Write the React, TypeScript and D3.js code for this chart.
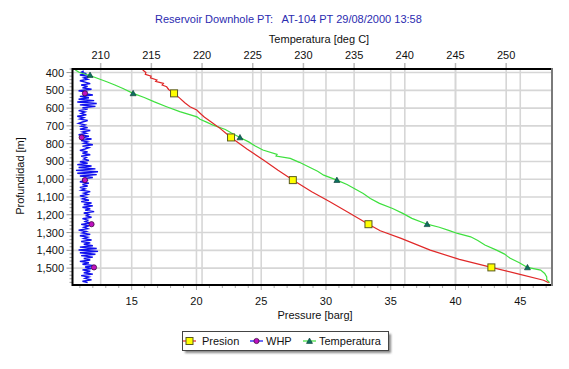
import React from 'react';
import * as d3 from 'd3';

// Presion (red, bottom axis, barg)
const presDepth = [386, 400, 410, 420, 430, 442, 450, 461, 470, 480, 495, 517, 545, 570, 592, 611, 630, 650, 686, 714, 740, 765, 830, 892, 950, 1005, 1070, 1127, 1190, 1253, 1290, 1333, 1399, 1451, 1496, 1534, 1568, 1582];
const presVal = [15.85, 16.1, 16.05, 16.5, 16.45, 16.95, 16.85, 17.45, 17.35, 17.7, 17.85, 18.27, 18.73, 19.1, 19.5, 20.02, 20.3, 20.6, 21.3, 21.82, 22.25, 22.67, 23.9, 25.17, 26.3, 27.44, 28.9, 30.3, 31.8, 33.28, 34.19, 35.8, 38.05, 40.3, 42.77, 44.9, 46.8, 47.2];

// Temperatura (green, top axis, deg C)
const tempDepth = [386, 400, 418, 435, 452, 470, 490, 517, 540, 565, 592, 620, 649, 663, 680, 696, 720, 740, 765, 790, 812, 836, 860, 870, 883, 905, 930, 955, 977, 1005, 1030, 1055, 1080, 1108, 1136, 1165, 1192, 1220, 1253, 1270, 1289, 1305, 1324, 1345, 1370, 1399, 1420, 1445, 1470, 1496, 1511, 1530, 1549, 1565, 1582];
const tempVal = [207.5, 207.9, 209.0, 209.8, 210.6, 211.4, 212.2, 213.2, 214.3, 215.3, 216.5, 217.8, 219.5, 219.8, 220.5, 221.1, 222.3, 222.9, 223.74, 224.6, 225.2, 226.0, 227.4, 227.3, 228.7, 229.6, 230.5, 231.4, 232.0, 233.3, 234.3, 235.1, 235.9, 236.6, 237.5, 238.8, 239.8, 240.7, 242.2, 243.4, 244.4, 245.2, 246.5, 247.2, 247.9, 249.05, 249.8, 250.4, 251.3, 252.1, 253.4, 253.8, 254.0, 254.0, 254.3];

// WHP (blue line, bottom axis), sampled every 8 m from 390 m
const whpStart = 390;
const whpStep = 8;
const whpVal = [
  11.3, 11.1, 11.5, 11.0, 11.7, 11.3, 11.6, 11.0, 11.4, 11.8,
  11.1, 11.6, 11.2, 11.9, 10.9, 11.5, 11.3, 12.0, 11.0, 11.7,
  10.9, 12.1, 10.8, 12.3, 11.0, 12.2, 11.2, 11.6, 10.9, 11.4,
  11.1, 11.5, 10.8, 11.3, 11.0, 11.6, 11.2, 10.9, 11.4, 11.1,
  11.6, 11.0, 11.8, 11.2, 11.5, 10.9, 11.7, 11.3, 11.9, 11.1,
  11.6, 11.3, 12.0, 11.2, 11.7, 11.4, 11.0, 11.6, 11.2, 11.8,
  11.1, 11.5, 11.3, 11.7, 11.0, 11.6, 10.8, 11.9, 10.9, 12.2,
  10.7, 12.4, 10.8, 12.3, 11.0, 12.0, 11.2, 11.5, 11.0, 11.7,
  11.2, 11.6, 11.0, 11.4, 11.1, 11.8, 11.3, 11.6, 11.0, 11.5,
  11.2, 11.7, 11.1, 11.9, 11.3, 12.0, 11.2, 11.8, 11.4, 12.1,
  11.3, 11.7, 11.5, 11.9, 11.2, 11.6, 11.4, 11.8, 11.1, 11.7,
  11.3, 11.6, 10.9, 11.5, 11.2, 11.8, 11.0, 11.6, 11.3, 11.9,
  11.1, 11.8, 11.3, 12.0, 11.0, 12.3, 10.9, 12.4, 11.0, 12.2,
  11.1, 12.0, 11.3, 11.8, 11.0, 11.7, 11.2, 12.1, 11.4, 11.9,
  11.2, 11.8, 11.3, 12.0, 11.1, 11.7, 11.4, 11.9, 11.2, 11.6,
];

// markers
const markDepth = [517, 765, 1005, 1253, 1496];
const presMark = [18.27, 22.67, 27.44, 33.28, 42.77];
const whpMark = [11.39, 11.14, 11.39, 11.9, 12.09];
const tempMarkDepth = [414, 517, 765, 1005, 1253, 1496];
const tempMark = [208.95, 213.2, 223.74, 233.3, 242.2, 252.1];

const presTicks = [15, 20, 25, 30, 35, 40, 45];
const tempTicks = [210, 215, 220, 225, 230, 235, 240, 245, 250];
const depthTicks = [400, 500, 600, 700, 800, 900, 1000, 1100, 1200, 1300, 1400, 1500];

const W = 569, H = 369;
const L = 72.5, R = 552, T = 69, B = 285;
const FONT = '"Liberation Sans", Arial, sans-serif';

export default function App() {
  const x = d3.scaleLinear().domain([10.43, 47.45]).range([L, R]);
  const xt = d3.scaleLinear().domain([207.22, 254.52]).range([L, R]);
  const y = d3.scaleLinear().domain([380, 1595]).range([T, B]);
  const fmt = d3.format(',');

  const presLine = d3.line<number>().x((v) => x(v)).y((_, i) => y(presDepth[i]));
  const tempLine = d3.line<number>().x((v) => xt(v)).y((_, i) => y(tempDepth[i]));
  const whpLine = d3.line<number>().x((v) => x(v)).y((_, i) => y(whpStart + i * whpStep));

  const minorP = d3.range(11, 48).filter((v) => v % 5 !== 0);
  const minorD = d3.range(380, 1595, 20).filter((v) => v % 100 !== 0);

  const tri = (cx: number, cy: number, s = 3) =>
    `M${cx},${cy - s} L${cx + s},${cy + s * 0.8} L${cx - s},${cy + s * 0.8} Z`;

  return (
    <svg width={W} height={H} style={{ position: 'absolute', left: 0, top: 0, background: '#fff' }} fontFamily={FONT} fontSize={11}>
      <defs>
        <clipPath id="plot"><rect x={L} y={T} width={R - L} height={B - T} /></clipPath>
        <filter id="sh" x="-10%" y="-30%" width="130%" height="170%"><feGaussianBlur stdDeviation="1" /></filter>
      </defs>
      <text x={155} y={23} fill="#2b2bb0" style={{ whiteSpace: 'pre' }}>{'Reservoir Downhole PT:   AT-104 PT 29/08/2000 13:58'}</text>
      <text x={319} y={43} textAnchor="middle" fill="#111">Temperatura [deg C]</text>

      {/* grid */}
      <g stroke="#d6d6d6" strokeWidth={1.6}>
        {depthTicks.map((d) => <line key={'h' + d} x1={L} x2={R} y1={y(d)} y2={y(d)} />)}
        {presTicks.map((p) => <line key={'p' + p} x1={x(p)} x2={x(p)} y1={T} y2={B} />)}
        {tempTicks.map((t) => <line key={'t' + t} x1={xt(t)} x2={xt(t)} y1={T} y2={B} />)}
      </g>

      {/* top axis */}
      <g stroke="#bbb" strokeWidth={1.5}>
        {tempTicks.map((t) => <line key={t} x1={xt(t)} x2={xt(t)} y1={T - 6} y2={T} />)}
      </g>
      {tempTicks.map((t) => <text key={t} x={xt(t)} y={59} textAnchor="middle" fill="#111">{t}</text>)}

      {/* bottom axis */}
      <g stroke="#aaa" strokeWidth={1}>
        {presTicks.map((p) => <line key={p} x1={x(p)} x2={x(p)} y1={B} y2={B + 5} />)}
        {minorP.map((p) => <line key={'m' + p} x1={x(p)} x2={x(p)} y1={B} y2={B + 3} />)}
      </g>
      {presTicks.map((p) => <text key={p} x={x(p)} y={305} textAnchor="middle" fill="#111">{p}</text>)}
      <text x={315} y={319} textAnchor="middle" fill="#111">Pressure [barg]</text>

      {/* left axis */}
      <g stroke="#999" strokeWidth={1}>
        {depthTicks.map((d) => <line key={d} x1={L - 6} x2={L} y1={y(d)} y2={y(d)} />)}
        {minorD.map((d) => <line key={'m' + d} x1={L - 3} x2={L} y1={y(d)} y2={y(d)} />)}
      </g>
      {depthTicks.map((d) => <text key={d} x={64} y={y(d) + 4} textAnchor="end" fill="#111">{fmt(d)}</text>)}
      <text transform="translate(24,176) rotate(-90)" textAnchor="middle" fill="#111">Profundidad [m]</text>

      {/* series */}
      <g clipPath="url(#plot)">
        <path d={whpLine(whpVal) || ''} fill="none" stroke="#1010ee" strokeWidth={1.4} />
        <path d={tempLine(tempVal) || ''} fill="none" stroke="#3ee03e" strokeWidth={1.2} />
        <path d={presLine(presVal) || ''} fill="none" stroke="#e02828" strokeWidth={1.2} />
        {whpMark.map((v, i) => <circle key={'w' + i} cx={x(v)} cy={y(markDepth[i])} r={2.6} fill="#c010c0" stroke="#401040" strokeWidth={0.8} />)}
        {tempMark.map((v, i) => <path key={'t' + i} d={tri(xt(v), y(tempMarkDepth[i]))} fill="#0d7060" stroke="#083830" strokeWidth={0.6} />)}
        {presMark.map((v, i) => <rect key={'p' + i} x={x(v) - 3.5} y={y(markDepth[i]) - 3.5} width={7} height={7} fill="#ffff00" stroke="#5a5a20" strokeWidth={1} />)}
      </g>

      {/* frame */}
      <path d={`M${R},${T} L${L},${T} L${L},${B} L${R},${B}`} fill="none" stroke="#000" strokeWidth={2} />
      <line x1={R} x2={R} y1={T - 1} y2={B + 1} stroke="#7a7a7a" strokeWidth={2} />

      {/* legend */}
      <rect x={185} y={334} width={206} height={19} fill="#888" filter="url(#sh)" />
      <rect x={182.5} y={331.5} width={206} height={19} fill="#fff" stroke="#444" strokeWidth={1} />
      <line x1={183} x2={196} y1={341} y2={341} stroke="#e02828" strokeWidth={1.2} />
      <rect x={186} y={337.5} width={7} height={7} fill="#ffff00" stroke="#5a5a20" />
      <text x={202} y={345} fill="#111">Presion</text>
      <line x1={250} x2={263} y1={341} y2={341} stroke="#1010ee" strokeWidth={1.2} />
      <circle cx={256.5} cy={341} r={2.6} fill="#c010c0" stroke="#401040" strokeWidth={0.8} />
      <text x={266} y={345} fill="#111">WHP</text>
      <line x1={303} x2={316} y1={341} y2={341} stroke="#3ee03e" strokeWidth={1.2} />
      <path d={tri(309.5, 341)} fill="#0d7060" stroke="#083830" strokeWidth={0.6} />
      <text x={319} y={345} fill="#111">Temperatura</text>
    </svg>
  );
}
